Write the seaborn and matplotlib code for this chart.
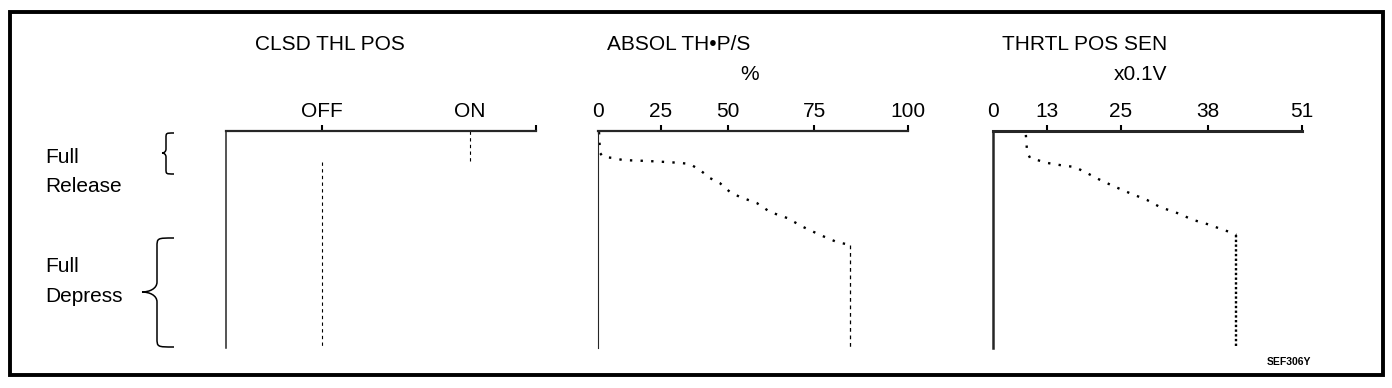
import numpy as np
import matplotlib
matplotlib.use("Agg")
import matplotlib.pyplot as plt
import seaborn as sns
from matplotlib.path import Path
from matplotlib.patches import PathPatch, Rectangle

# ---------------- data ----------------
# pedal travel (0 = full release, 100 = full depress)
clsd_states = ["OFF", "ON"]
clsd_state_seq = ["ON", "ON", "OFF", "OFF"]
clsd_travel = [0, 13.8, 14.3, 100]

abs_ticks = [0, 25, 50, 75, 100]
abs_tick_labels = ["0", "25", "50", "75", "100"]
abs_pct = [0.4, 0.8, 2.0, 6.0, 9.9, 19.4, 27.2, 32.1, 35.8, 39.6, 43.3, 47.0,
           50.6, 53.5, 58.4, 62.2, 67.2, 71.8, 76.6, 81.1, 84.6, 84.6]
abs_travel = [0.5, 10.1, 12.0, 12.4, 13.4, 13.8, 14.3, 14.7, 15.2, 18.0, 21.7,
              24.0, 28.1, 30.4, 33.2, 37.3, 40.1, 44.2, 47.9, 51.2, 52.5, 100]

tps_ticks = [0, 13, 25, 38, 51]
tps_tick_labels = ["0", "13", "25", "38", "51"]
tps_volt = [7.9, 8.2, 8.9, 13.0, 15.1, 17.5, 19.5, 21.3, 23.7, 26.3, 28.9,
            30.8, 33.4, 35.8, 38.3, 40.1, 41.5, 41.9, 41.9]
tps_travel = [1.8, 9.7, 12.4, 14.7, 15.7, 16.6, 19.4, 22.1, 25.3, 28.6, 31.8,
              35.0, 37.8, 41.0, 43.3, 45.6, 47.0, 47.9, 100]

# ---------------- style ----------------
sns.set_style("white")
plt.rcParams["font.family"] = ["Liberation Sans", "DejaVu Sans"]
FS = 15

W, H = 1392, 388
fig = plt.figure(figsize=(W / 100, H / 100), dpi=100)

# overlay in pixel coordinates for frame, labels, braces
ov = fig.add_axes([0, 0, 1, 1])
ov.set_xlim(0, W)
ov.set_ylim(H, 0)
ov.axis("off")
ov.add_patch(Rectangle((9.5, 11.5), 1373, 363, fill=False, lw=2.8, ec="black"))

AX_TOP, AX_BOT = 131, 348


def make_ax(x0, x1):
    ax = fig.add_axes([x0 / W, 1 - AX_BOT / H, (x1 - x0) / W, (AX_BOT - AX_TOP) / H])
    ax.patch.set_alpha(0)
    for s in ("right", "bottom"):
        ax.spines[s].set_visible(False)
    ax.set_ylim(100, 0)
    ax.set_yticks([])
    ax.xaxis.tick_top()
    ax.tick_params(axis="x", direction="out", length=4, width=1.5, pad=3,
                   labelsize=FS, colors="black")
    ax.set_xlabel("")
    ax.set_ylabel("")
    return ax


def piecewise_scale(ax, ticks, fracs):
    ax.set_xscale("function",
                  functions=(lambda v: np.interp(v, ticks, fracs),
                             lambda f: np.interp(f, fracs, ticks)))


# ---- panel 1: CLSD THL POS ----
ax1 = make_ax(226, 536)
state_pos = {"OFF": 0.0, "ON": 1.0}
ax1.set_xlim(-0.649, 1.446)
seq_x = [state_pos[s] for s in clsd_state_seq]
for st in clsd_states:
    idx = [i for i, s in enumerate(clsd_state_seq) if s == st]
    sns.lineplot(x=[seq_x[i] for i in idx], y=[clsd_travel[i] for i in idx],
                 ax=ax1, color="black", lw=0.8, linestyle=(0, (3, 3)),
                 sort=False, estimator=None, clip_on=False)
ax1.set_xticks([state_pos["OFF"], state_pos["ON"], 1.446])
ax1.set_xticklabels(["OFF", "ON", ""])
ax1.xaxis.get_major_ticks()[1].tick2line.set_visible(False)
ax1.spines["top"].set_linewidth(1.6)
ax1.spines["left"].set_linewidth(1.1)
ax1.set_xlabel("")
ax1.set_ylabel("")

# ---- panel 2: ABSOL TH.P/S ----
ax2 = make_ax(598, 908)
piecewise_scale(ax2, abs_ticks, [0, 0.203, 0.419, 0.697, 1.0])
ax2.set_xlim(0, 100)
k = len(abs_pct) - 1
sns.lineplot(x=abs_pct[:k], y=abs_travel[:k], ax=ax2, color="black", lw=1.7,
             linestyle=(0, (1, 3.5)), sort=False, estimator=None, clip_on=False)
sns.lineplot(x=abs_pct[k - 1:], y=abs_travel[k - 1:], ax=ax2, color="black", lw=0.9,
             linestyle=(0, (3, 3)), sort=False, estimator=None, clip_on=False)
ax2.set_xticks(abs_ticks)
ax2.set_xticklabels(abs_tick_labels)
ax2.xaxis.get_major_ticks()[0].tick2line.set_visible(False)
ax2.spines["top"].set_linewidth(1.6)
ax2.spines["left"].set_linewidth(0.8)
ax2.set_xlabel("")
ax2.set_ylabel("")

# ---- panel 3: THRTL POS SEN ----
ax3 = make_ax(993, 1302)
piecewise_scale(ax3, tps_ticks, [0, 0.175, 0.414, 0.696, 1.0])
ax3.set_xlim(0, 51)
k = len(tps_volt) - 1
sns.lineplot(x=tps_volt[:k], y=tps_travel[:k], ax=ax3, color="black", lw=1.7,
             linestyle=(0, (1, 3.5)), sort=False, estimator=None, clip_on=False)
sns.lineplot(x=tps_volt[k - 1:], y=tps_travel[k - 1:], ax=ax3, color="black", lw=1.7,
             linestyle=(0, (1, 1)), sort=False, estimator=None, clip_on=False)
ax3.set_xticks(tps_ticks)
ax3.set_xticklabels(tps_tick_labels)
ax3.xaxis.get_major_ticks()[0].tick2line.set_visible(False)
ax3.spines["top"].set_linewidth(2.2)
ax3.spines["left"].set_linewidth(1.8)
ax3.set_xlabel("")
ax3.set_ylabel("")

# ---- texts ----
tkw = dict(fontsize=FS, color="black", va="baseline")
ov.text(330, 50, "CLSD THL POS", ha="center", **tkw)
ov.text(679, 50, "ABSOL TH\u2022P/S", ha="center", **tkw)
ov.text(750, 80, "%", ha="center", **tkw)
ov.text(1085, 50, "THRTL POS SEN", ha="center", **tkw)
ov.text(1141, 80, "x0.1V", ha="center", **tkw)
ov.text(45, 163, "Full", ha="left", **tkw)
ov.text(45, 192, "Release", ha="left", **tkw)
ov.text(45, 272, "Full", ha="left", **tkw)
ov.text(45, 302, "Depress", ha="left", **tkw)
ov.text(1311, 365, "SEF306Y", ha="right", fontsize=7.5, fontweight="bold",
        color="black", va="baseline")


# ---- braces ----
def brace(xr, xm, xt, yt, ym, yb, r, rt):
    verts = [(xr, yt), (xm, yt), (xm, yt), (xm, yt + r),
             (xm, ym - rt), (xm, ym - rt / 3), (xt + (xm - xt) / 2, ym), (xt, ym),
             (xt + (xm - xt) / 2, ym), (xm, ym + rt / 3), (xm, ym + rt),
             (xm, yb - r), (xm, yb), (xm, yb), (xr, yb)]
    codes = [Path.MOVETO, Path.CURVE4, Path.CURVE4, Path.CURVE4,
             Path.LINETO, Path.CURVE4, Path.CURVE4, Path.CURVE4,
             Path.CURVE4, Path.CURVE4, Path.CURVE4,
             Path.LINETO, Path.CURVE4, Path.CURVE4, Path.CURVE4]
    ov.add_patch(PathPatch(Path(verts, codes), fill=False, lw=1.1, ec="black"))


brace(174, 166, 162, 133, 153, 174, 5, 4)
brace(174, 157, 142, 238, 292, 347, 9, 10)

fig.savefig("out.png", dpi=100)
